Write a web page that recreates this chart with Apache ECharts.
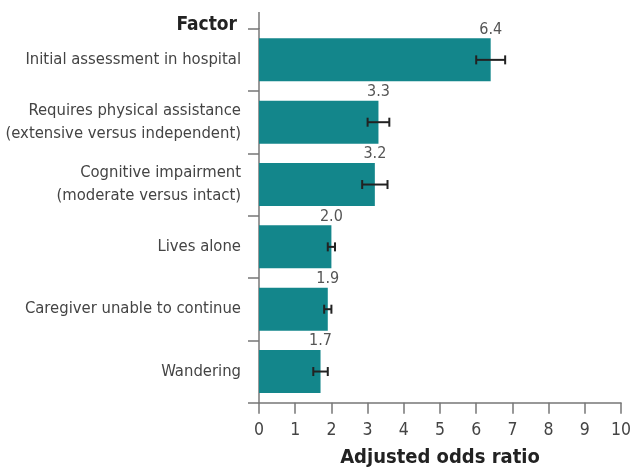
<!DOCTYPE html>
<html>
<head>
<meta charset="utf-8">
<script src="https://cdn.jsdelivr.net/npm/echarts@6/dist/echarts.min.js"></script>
<style>
  html, body { margin: 0; padding: 0; background: #fff; }
  #chart { width: 630px; height: 471px; }
</style>
</head>
<body>
<div id="chart"></div>
<script>
const factors = [
  'Initial assessment in hospital',
  'Requires physical assistance\n(extensive versus independent)',
  'Cognitive impairment\n(moderate versus intact)',
  'Lives alone',
  'Caregiver unable to continue',
  'Wandering'
]
const oddsRatio = [6.4, 3.3, 3.2, 2.0, 1.9, 1.7]
const ciLow = [6.0, 3.0, 2.85, 1.9, 1.8, 1.5]
const ciHigh = [6.8, 3.6, 3.55, 2.1, 2.0, 1.9]
const xTicks = [0, 1, 2, 3, 4, 5, 6, 7, 8, 9, 10]

const font = '"Liberation Sans Narrow", "DejaVu Sans Condensed", "Liberation Sans", sans-serif'
const axisColor = '#777777'
const textColor = '#444444'

const chart = echarts.init(document.getElementById('chart'))

const option = {
  animation: false,
  textStyle: { fontFamily: font },
  grid: { left: 259, right: 9, top: 28.7, bottom: 68.3, containLabel: false, outerBoundsMode: 'none' },
  xAxis: {
    type: 'value',
    min: xTicks[0],
    max: xTicks[xTicks.length - 1],
    interval: 1,
    name: 'Adjusted odds ratio',
    nameLocation: 'middle',
    nameGap: 45,
    nameTextStyle: { fontFamily: font, fontSize: 20, fontWeight: 'bold', color: '#222' },
    axisLine: { show: true, lineStyle: { color: axisColor, width: 1.5 } },
    axisTick: { show: true, length: 11, lineStyle: { color: axisColor, width: 1.5 } },
    axisLabel: { color: textColor, fontSize: 17.5, margin: 19, fontFamily: font },
    splitLine: { show: false }
  },
  yAxis: {
    type: 'category',
    inverse: true,
    data: factors,
    name: 'Factor',
    nameLocation: 'start',
    nameGap: -6,
    nameTextStyle: { fontFamily: font, fontSize: 19, fontWeight: 'bold', color: '#222', align: 'right', padding: [0, 22, 0, 0] },
    axisLine: { show: true, lineStyle: { color: axisColor, width: 1.5 } },
    axisTick: { show: true, length: 11, lineStyle: { color: axisColor, width: 1.5 } },
    axisLabel: { color: textColor, fontSize: 16.5, lineHeight: 23, margin: 18, align: 'right', fontFamily: font }
  },
  graphic: [{
    type: 'line',
    shape: { x1: 259, y1: 12, x2: 259, y2: 29 },
    style: { stroke: axisColor, lineWidth: 1.5 }
  }],
  series: [
    {
      type: 'bar',
      data: oddsRatio,
      barCategoryGap: '31%',
      itemStyle: { color: '#13868b' },
      label: {
        show: true,
        position: ['100%', -9],
        align: 'center',
        verticalAlign: 'middle',
        color: '#555555',
        fontSize: 16,
        fontFamily: font,
        formatter: p => p.value.toFixed(1)
      }
    },
    {
      type: 'custom',
      data: factors.map((f, i) => [i, ciLow[i], ciHigh[i]]),
      renderItem: (params, api) => {
        const i = api.value(0)
        const lo = api.coord([api.value(1), i])
        const hi = api.coord([api.value(2), i])
        const cap = 4.5
        const style = { stroke: '#222222', lineWidth: 2 }
        return {
          type: 'group',
          children: [
            { type: 'line', shape: { x1: lo[0], y1: lo[1], x2: hi[0], y2: hi[1] }, style },
            { type: 'line', shape: { x1: lo[0], y1: lo[1] - cap, x2: lo[0], y2: lo[1] + cap }, style },
            { type: 'line', shape: { x1: hi[0], y1: hi[1] - cap, x2: hi[0], y2: hi[1] + cap }, style }
          ]
        }
      },
      encode: { x: [1, 2], y: 0 },
      z: 5
    }
  ]
}

chart.setOption(option)
</script>
</body>
</html>
